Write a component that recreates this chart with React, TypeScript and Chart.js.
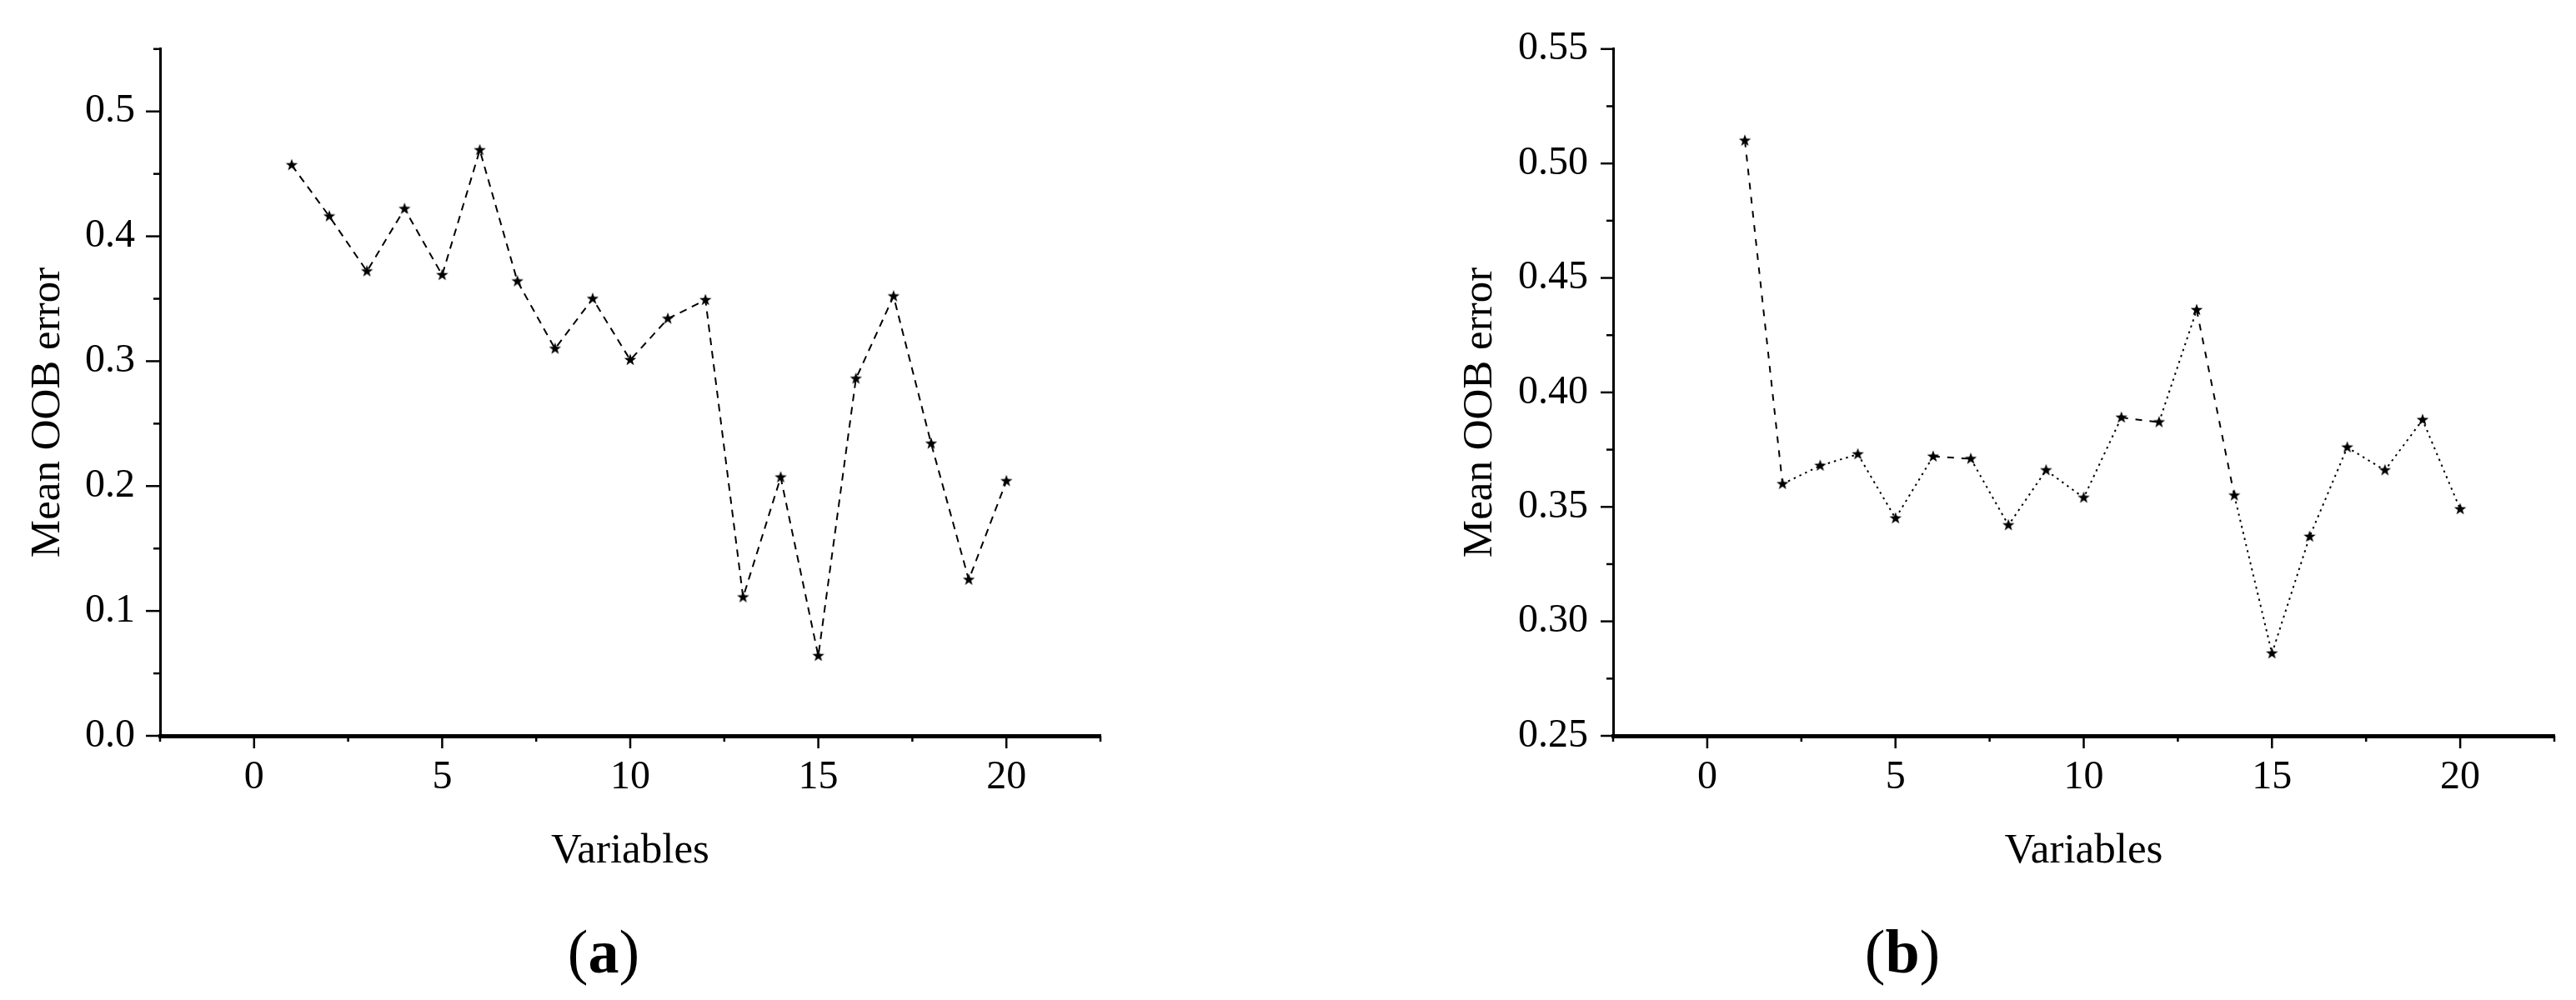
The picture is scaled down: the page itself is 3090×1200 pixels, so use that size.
import React, { useEffect, useRef } from "react";
import { Chart, registerables } from "chart.js";

Chart.register(...registerables);

// ---------------- data ----------------
const variables = [1, 2, 3, 4, 5, 6, 7, 8, 9, 10, 11, 12, 13, 14, 15, 16, 17, 18, 19, 20];
const errorA = [0.457, 0.416, 0.372, 0.422, 0.369, 0.469, 0.364, 0.310, 0.350, 0.301, 0.334, 0.349, 0.111, 0.207, 0.064, 0.286, 0.352, 0.234, 0.125, 0.204];
const errorB = [0.510, 0.360, 0.368, 0.373, 0.345, 0.372, 0.371, 0.342, 0.366, 0.354, 0.389, 0.387, 0.436, 0.355, 0.286, 0.337, 0.376, 0.366, 0.388, 0.349];
// segments (index of segment start) drawn dashed in panel (b); the rest dotted
const dashedSegmentsB = [0, 5, 10, 12];
const xTitle = "Variables";
const yTitle = "Mean OOB error";
const panelLabels = ["a", "b"];

const FONT = '"Liberation Serif", "Times New Roman", Times, serif';

function makeStar(size: number, outer: number, inner: number) {
  const c = document.createElement("canvas");
  c.width = size;
  c.height = size;
  const g = c.getContext("2d")!;
  g.fillStyle = "#000";
  g.beginPath();
  for (let i = 0; i < 10; i++) {
    const r = i % 2 === 0 ? outer : inner;
    const a = -Math.PI / 2 + (i * Math.PI) / 5;
    const px = size / 2 + r * Math.cos(a);
    const py = size / 2 + r * Math.sin(a);
    if (i === 0) g.moveTo(px, py);
    else g.lineTo(px, py);
  }
  g.closePath();
  g.fill();
  return c;
}

const isMult = (v: number, step: number) => Math.abs(v / step - Math.round(v / step)) < 1e-6;

const axisDecor = {
  id: "axisDecor",
  afterDraw(chart: any, _args: any, opts: any) {
    const ctx = chart.ctx as CanvasRenderingContext2D;
    const xs = chart.scales.x;
    const ys = chart.scales.y;
    const area = chart.chartArea;
    ctx.save();
    ctx.strokeStyle = "#000";
    ctx.lineWidth = 2.5;
    ys.ticks.forEach((t: any) => {
      const py = ys.getPixelForValue(t.value);
      const major = isMult(t.value - opts.yBase, opts.yMajor);
      const len = major ? opts.yMajorLen : 8;
      ctx.beginPath();
      ctx.moveTo(area.left - len, py);
      ctx.lineTo(area.left, py);
      ctx.stroke();
    });
    xs.ticks.forEach((t: any) => {
      const px = xs.getPixelForValue(t.value);
      const major = isMult(t.value, 5);
      const len = major ? 15 : 7;
      ctx.beginPath();
      ctx.moveTo(px, area.bottom);
      ctx.lineTo(px, area.bottom + len);
      ctx.stroke();
    });
    ctx.fillStyle = "#000";
    ctx.font = `${opts.titleSize}px ${FONT}`;
    ctx.textAlign = "center";
    ctx.textBaseline = "alphabetic";
    ctx.fillText(xTitle, (area.left + area.right) / 2, opts.xTitleBaseline);
    ctx.translate(opts.yTitleX, opts.yTitleCenterY);
    ctx.rotate(-Math.PI / 2);
    ctx.textBaseline = "middle";
    ctx.fillText(yTitle, 0, 0);
    ctx.restore();
  },
};

type PanelCfg = {
  values: number[];
  yMin: number;
  yMax: number;
  yStep: number;
  yMajor: number;
  yDecimals: number;
  yAxisWidth: number;
  padRight: number;
  yMajorLen: number;
  yTitleX: number;
  dashed: boolean;
};

function Panel({ cfg, width, height }: { cfg: PanelCfg; width: number; height: number }) {
  const ref = useRef<HTMLCanvasElement>(null);
  useEffect(() => {
    let chart: Chart | null = null;
    let cancelled = false;
    const build = () => {
      if (cancelled || !ref.current) return;
      const star = makeStar(18, 7.6, 3.1);
      chart = new Chart(ref.current, {
        type: "line",
        data: {
          datasets: [
            {
              data: variables.map((v, i) => ({ x: v, y: cfg.values[i] })),
              borderColor: "#000",
              borderWidth: 2,
              borderDash: cfg.dashed ? [9, 7] : [2.5, 5],
              tension: 0,
              fill: false,
              pointStyle: star as any,
              pointRadius: 8,
              pointHoverRadius: 8,
              segment: cfg.dashed
                ? undefined
                : {
                    borderDash: (c: any) => (dashedSegmentsB.includes(c.p0DataIndex) ? [8, 9] : [2.5, 5]),
                  },
            } as any,
          ],
        },
        options: {
          responsive: false,
          animation: false,
          devicePixelRatio: 1,
          layout: { padding: { left: 0, top: 43, right: cfg.padRight, bottom: 0 } },
          plugins: {
            legend: { display: false },
            tooltip: { enabled: false },
            axisDecor: {
              yBase: cfg.yMin,
              yMajor: cfg.yMajor,
              yMajorLen: cfg.yMajorLen,
              titleSize: 51,
              xTitleBaseline: 1035,
              yTitleX: cfg.yTitleX,
              yTitleCenterY: 495,
            },
          } as any,
          scales: {
            x: {
              type: "linear",
              min: -2.5,
              max: 22.5,
              afterFit: (s: any) => {
                s.height = height - 883;
              },
              ticks: {
                stepSize: 2.5,
                autoSkip: false,
                maxRotation: 0,
                padding: 22,
                color: "#000",
                font: { family: FONT, size: 48 },
                callback: (v: any) => (isMult(Number(v), 5) ? String(Math.round(Number(v))) : ""),
              },
              grid: { display: false, drawTicks: false },
              border: { display: true, color: "#000", width: 5 },
            },
            y: {
              type: "linear",
              min: cfg.yMin,
              max: cfg.yMax,
              afterFit: (s: any) => {
                s.width = cfg.yAxisWidth;
              },
              ticks: {
                stepSize: cfg.yStep,
                autoSkip: false,
                padding: 30,
                color: "#000",
                font: { family: FONT, size: 48 },
                callback: (v: any) => {
                  const n = Number(v);
                  if (!isMult(n - cfg.yMin, cfg.yMajor)) return "";
                  if (n > cfg.yMax + 1e-9) return "";
                  return n.toFixed(cfg.yDecimals);
                },
              },
              grid: { display: false, drawTicks: false },
              border: { display: true, color: "#000", width: 3 },
            },
          },
        },
        plugins: [axisDecor as any],
      });
    };
    const fontsApi = (document as any).fonts;
    if (fontsApi && fontsApi.load) {
      Promise.all([
        fontsApi.load('48px "Liberation Serif"'),
        fontsApi.load('51px "Liberation Serif"'),
      ])
        .catch(() => null)
        .then(() => build());
    } else {
      build();
    }
    return () => {
      cancelled = true;
      if (chart) chart.destroy();
    };
  }, []);
  return <canvas ref={ref} width={width} height={height} style={{ width, height, display: "block" }} />;
}

const cfgA: PanelCfg = {
  values: errorA,
  yMin: 0,
  yMax: 0.55,
  yStep: 0.05,
  yMajor: 0.1,
  yDecimals: 1,
  yAxisWidth: 192,
  padRight: 1545 - 1320,
  yMajorLen: 17,
  yTitleX: 58,
  dashed: true,
};

const cfgB: PanelCfg = {
  values: errorB,
  yMin: 0.25,
  yMax: 0.55,
  yStep: 0.025,
  yMajor: 0.05,
  yDecimals: 2,
  yAxisWidth: 1935 - 1545,
  padRight: 3090 - 3064,
  yMajorLen: 15,
  yTitleX: 1776 - 1545,
  dashed: false,
};

const labelStyle = (cx: number): React.CSSProperties => ({
  position: "absolute",
  left: cx - 120,
  width: 240,
  top: 1102,
  textAlign: "center",
  fontFamily: FONT,
  fontSize: 74,
  lineHeight: "80px",
  color: "#000",
});

export default function App() {
  return (
    <div style={{ position: "fixed", left: 0, top: 0, width: 3090, height: 1200, background: "#fff", overflow: "hidden" }}>
      <div style={{ position: "absolute", left: 0, top: 0 }}>
        <Panel cfg={cfgA} width={1545} height={1200} />
      </div>
      <div style={{ position: "absolute", left: 1545, top: 0 }}>
        <Panel cfg={cfgB} width={1545} height={1200} />
      </div>
      <div style={labelStyle(724)}>
        (<b>{panelLabels[0]}</b>)
      </div>
      <div style={labelStyle(2282)}>
        (<b>{panelLabels[1]}</b>)
      </div>
    </div>
  );
}
